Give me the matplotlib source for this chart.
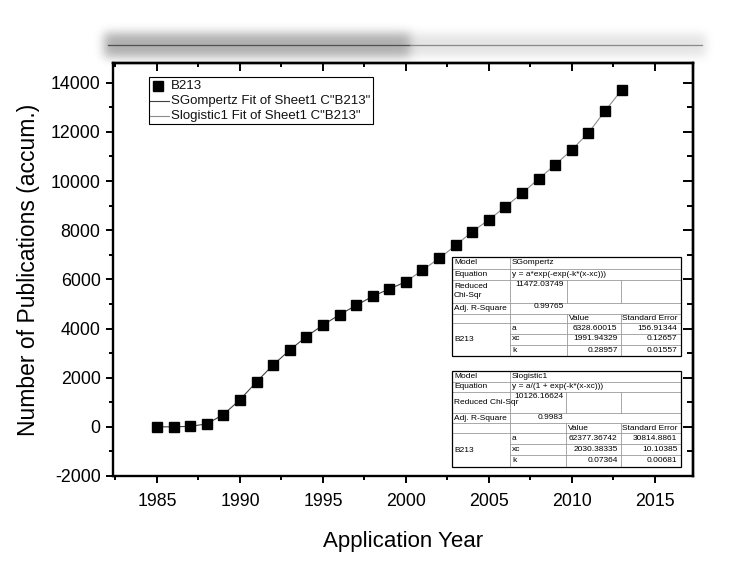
import numpy as np
import matplotlib
matplotlib.use('Agg')
import matplotlib.pyplot as plt
from matplotlib.ticker import MultipleLocator
from matplotlib.patches import Rectangle
from matplotlib.lines import Line2D

plt.rcParams['font.family'] = ['Liberation Sans', 'DejaVu Sans']
plt.rcParams['axes.unicode_minus'] = False

# ---------------- data ----------------
years = list(range(1985, 2014))
pubs = [0, 0, 20, 120, 500, 1100, 1830, 2520, 3120, 3670,
        4140, 4560, 4940, 5310, 5610, 5900, 6380, 6850, 7380, 7945,
        8420, 8960, 9500, 10090, 10660, 11270, 11960, 12850, 13700]

gomp_years = years[:16]
gomp_vals = pubs[:16]
logi_years = years[15:]
logi_vals = pubs[15:]

legend_labels = ['B213', 'SGompertz Fit of Sheet1 C"B213"', 'Slogistic1 Fit of Sheet1 C"B213"']

x_ticks = [1985, 1990, 1995, 2000, 2005, 2010, 2015]
y_ticks = [-2000, 0, 2000, 4000, 6000, 8000, 10000, 12000, 14000]

# fit tables
t1_model = 'SGompertz'
t1_equation = 'y = a*exp(-exp(-k*(x-xc)))'
t1_chi = '11472.03749'
t1_adj = '0.99765'
t1_params = ['a', 'xc', 'k']
t1_values = ['6328.60015', '1991.94329', '0.28957']
t1_errors = ['156.91344', '0.12657', '0.01557']

t2_model = 'Slogistic1'
t2_equation = 'y = a/(1 + exp(-k*(x-xc)))'
t2_chi = '10126.16624'
t2_adj = '0.9983'
t2_params = ['a', 'xc', 'k']
t2_values = ['62377.36742', '2030.38335', '0.07364']
t2_errors = ['30814.8861', '10.10385', '0.00681']

# ---------------- figure ----------------
W, H = 732, 563
fig = plt.figure(figsize=(W / 100, H / 100), dpi=100)
fig.patch.set_facecolor('white')

# blurred decorative header bar
bg = fig.add_axes([0, 0, 1, 1], zorder=-1)
bg.axis('off')
alpha = np.zeros((H, W))
alpha[33:57, 104:410] = 0.32
alpha[34:56, 410:706] = 0.11
s = 5.0
xs = np.arange(-18, 19)
g = np.exp(-xs ** 2 / (2 * s * s))
g /= g.sum()
alpha = np.apply_along_axis(lambda m: np.convolve(m, g, mode='same'), 1, alpha)
alpha = np.apply_along_axis(lambda m: np.convolve(m, g, mode='same'), 0, alpha)
rgba = np.zeros((H, W, 4))
rgba[..., 3] = alpha
bg.imshow(rgba, extent=(0, W, H, 0), interpolation='bilinear', aspect='auto')
bg.set_xlim(0, W)
bg.set_ylim(H, 0)

# main axes
ax = fig.add_axes([113 / W, 1 - 476 / H, (693 - 113) / W, (476 - 63) / H], zorder=1)
ax.set_facecolor('none')

ax.plot(gomp_years, gomp_vals, color='#404040', lw=0.8, zorder=2)
ax.plot(logi_years, logi_vals, color='#8c8c8c', lw=0.8, zorder=2)
ax.plot(years, pubs, linestyle='none', marker='s', markersize=7.8,
        color='black', zorder=3)

ax.set_xlim(1982.35, 2017.3)
ax.set_ylim(-2000, 14800)
ax.set_xticks(x_ticks)
ax.set_yticks(y_ticks)
ax.xaxis.set_minor_locator(MultipleLocator(2.5))
ax.yaxis.set_minor_locator(MultipleLocator(1000))
ax.tick_params(which='both', direction='out', width=1.4, labelsize=12.8)
ax.tick_params(which='major', length=5)
ax.tick_params(which='minor', length=3)
ax.tick_params(axis='x', pad=7)
ax.tick_params(axis='y', pad=4)
for sp in ax.spines.values():
    sp.set_linewidth(1.7)

top = ax.secondary_xaxis('top')
top.set_xticks(x_ticks)
top.xaxis.set_minor_locator(MultipleLocator(2.5))
top.tick_params(which='both', direction='in', width=1.4, labeltop=False)
top.tick_params(which='major', length=6)
top.tick_params(which='minor', length=3)
top.spines['top'].set_linewidth(1.7)

right = ax.secondary_yaxis('right')
right.set_yticks(y_ticks)
right.yaxis.set_minor_locator(MultipleLocator(1000))
right.tick_params(which='both', direction='in', width=1.4, labelright=False)
right.tick_params(which='major', length=7)
right.tick_params(which='minor', length=4)
right.spines['right'].set_linewidth(1.7)

ax.set_xlabel('Application Year', fontsize=16, labelpad=15)
ax.set_ylabel('Number of Publications (accum.)', fontsize=16.5, labelpad=8)

# ---------------- overlay (pixel coordinates) ----------------
ov = fig.add_axes([0, 0, 1, 1], zorder=5)
ov.set_xlim(0, W)
ov.set_ylim(H, 0)
ov.axis('off')
ov.patch.set_alpha(0)

# header line
ov.add_line(Line2D([108, 410], [45, 45], color='#505050', lw=0.9))
ov.add_line(Line2D([410, 702], [45, 45], color='#8a8a8a', lw=0.9))

# legend
lx0, ly0, lx1, ly1 = 149, 77, 373, 124
ov.add_patch(Rectangle((lx0, ly0), lx1 - lx0, ly1 - ly0, facecolor='white',
                       edgecolor='black', lw=0.8))
rows_y = [86, 101, 116]
ov.add_line(Line2D([158], [rows_y[0]], marker='s', markersize=7.5, color='black',
                   linestyle='none'))
ov.add_line(Line2D([150, 169], [rows_y[1], rows_y[1]], color='#404040', lw=0.8))
ov.add_line(Line2D([150, 169], [rows_y[2], rows_y[2]], color='#8c8c8c', lw=0.8))
for lab, yy in zip(legend_labels, rows_y):
    ov.text(171, yy, lab, fontsize=9.5, va='center', ha='left', color='#111')


def draw_table(cols, rows, model, equation, chi, chi_label, adj, params, values, errors):
    # rows: 9 boundaries for 8 rows (Model, Equation, Chi, AdjR, header, a, xc, k)
    x0, x4 = cols[0], cols[-1]
    y0, yb = rows[0], rows[-1]
    ov.add_patch(Rectangle((x0, y0), x4 - x0, yb - y0, facecolor='white',
                           edgecolor='none', zorder=1))
    gc = '#9a9a9a'
    lw = 0.6
    for i, yy in enumerate(rows[1:-1], start=1):
        xs0 = cols[1] if i in (6, 7) else x0
        ov.add_line(Line2D([xs0, x4], [yy, yy], color=gc, lw=lw, zorder=2))
    ov.add_line(Line2D([cols[1], cols[1]], [y0, yb], color=gc, lw=lw, zorder=2))
    for c in (cols[2], cols[3]):
        ov.add_line(Line2D([c, c], [rows[2], rows[3]], color=gc, lw=lw, zorder=2))
        ov.add_line(Line2D([c, c], [rows[4], yb], color=gc, lw=lw, zorder=2))
    ov.add_patch(Rectangle((x0, y0), x4 - x0, yb - y0, facecolor='none',
                           edgecolor='black', lw=0.9, zorder=3))
    fs = 6.0
    pad = 2

    def mid(i):
        return (rows[i] + rows[i + 1]) / 2
    ov.text(x0 + pad, mid(0), 'Model', fontsize=fs, va='center')
    ov.text(cols[1] + pad, mid(0), model, fontsize=fs, va='center')
    ov.text(x0 + pad, mid(1), 'Equation', fontsize=fs, va='center')
    ov.text(cols[1] + pad, mid(1), equation, fontsize=fs, va='center')
    ov.text(x0 + pad, mid(2), chi_label, fontsize=fs, va='center', linespacing=1.4)
    ov.text(cols[2] - 3, rows[2] + 1, chi, fontsize=fs, va='top', ha='right')
    ov.text(x0 + pad, mid(3), 'Adj. R-Square', fontsize=fs, va='center')
    ov.text(cols[2] - 3, rows[3] + 1, adj, fontsize=fs, va='top', ha='right')
    ov.text(cols[2] + pad, mid(4), 'Value', fontsize=fs, va='center')
    ov.text(cols[3] + pad, mid(4), 'Standard Error', fontsize=fs, va='center')
    ov.text(x0 + pad, (rows[5] + rows[8]) / 2, 'B213', fontsize=fs, va='center')
    for k, (p, v, e) in enumerate(zip(params, values, errors)):
        ov.text(cols[1] + pad, mid(5 + k), p, fontsize=fs, va='center')
        ov.text(cols[3] - 3, mid(5 + k), v, fontsize=fs, va='center', ha='right')
        ov.text(x4 - 3, mid(5 + k), e, fontsize=fs, va='center', ha='right')


draw_table([452, 510, 567, 620.5, 680.5],
           [257, 268.5, 279.5, 302.5, 313.5, 323, 333.5, 344.5, 356],
           t1_model, t1_equation, t1_chi, 'Reduced\nChi-Sqr', t1_adj,
           t1_params, t1_values, t1_errors)

draw_table([452, 510, 566, 620.5, 680.5],
           [371, 382, 392, 413, 423, 433, 444, 455, 467],
           t2_model, t2_equation, t2_chi, 'Reduced Chi-Sqr', t2_adj,
           t2_params, t2_values, t2_errors)

fig.savefig('out.png', dpi=100, facecolor='white')
